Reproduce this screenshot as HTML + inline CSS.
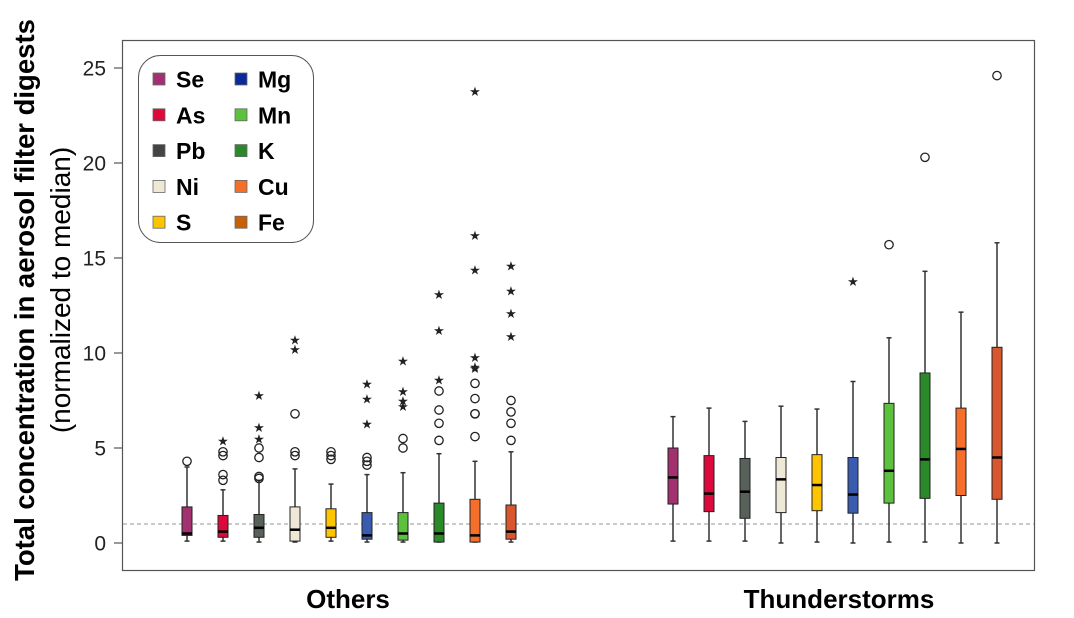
<!DOCTYPE html>
<html><head><meta charset="utf-8"><style>
body{margin:0;background:#fff;}
svg{display:block;font-family:"Liberation Sans",Arial,sans-serif;}
</style></head><body>
<svg id="chart" width="1074" height="618">
<rect x="122.5" y="40.5" width="912" height="530" fill="none" stroke="#555" stroke-width="1.2"/>
<g id="yaxis"></g>
<g id="marks"></g>
<text x="34" y="300" transform="rotate(-90 34 300)" text-anchor="middle" font-size="27.5" font-weight="bold" fill="#000">Total concentration in aerosol filter digests</text>
<text x="70" y="290" transform="rotate(-90 70 290)" text-anchor="middle" font-size="28" fill="#000">(normalized to median)</text>
<text x="348" y="608" text-anchor="middle" font-size="26" font-weight="bold">Others</text>
<text x="839" y="608" text-anchor="middle" font-size="26" font-weight="bold">Thunderstorms</text>
<g id="legend">
<rect x="138.5" y="55.5" width="175" height="187" rx="22" fill="#fff" stroke="#555" stroke-width="1"/>
</g>
</svg>
<script>
const elements = ["Se","As","Pb","Ni","S","Mg","Mn","K","Cu","Fe"];
const colors = ["#a3306f","#dc0a3c","#58605a","#efe8d6","#ffc400","#3a5cb0","#5cc13c","#2a8a2a","#f66f2a","#d8572f"];
const legendColors = ["#a3306f","#dc0a3c","#444444","#efe8d6","#ffc400","#0a2a9a","#5cc13c","#2a8a2a","#f66f2a","#c8600a"];
const yTicks = [0,5,10,15,20,25];
// [low, q1, median, q3, high]
const othersStats = [
 [0.1,0.4,0.5,1.9,4.0],[0.1,0.3,0.6,1.45,2.8],[0.05,0.3,0.8,1.5,3.3],[0.05,0.1,0.7,1.9,3.9],[0.1,0.3,0.8,1.8,3.1],
 [0.05,0.2,0.4,1.6,3.6],[0.05,0.15,0.5,1.6,3.7],[0.05,0.05,0.5,2.1,4.7],[0.05,0.05,0.4,2.3,4.3],[0.05,0.2,0.6,2.0,4.8]];
const othersCircles = [[4.3],[3.3,3.6,4.6,4.8],[3.4,3.5,4.5,5.0],[4.6,4.8,6.8],[4.4,4.6,4.8],[4.1,4.3,4.5],[5.0,5.5],[5.4,6.3,7.0,8.0],[5.6,6.8,6.8,7.6,8.4],[5.4,6.3,6.9,7.5]];
const othersStars = [[],[5.4],[5.5,6.1,7.8],[10.2,10.7],[],[6.3,7.6,8.4],[7.2,7.5,8.0,9.6],[8.6,11.2,13.1],[9.2,9.3,9.8,14.4,16.2,23.8],[10.9,12.1,13.3,14.6]];
const stormStats = [
 [0.1,2.05,3.45,5.0,6.65],[0.1,1.65,2.6,4.6,7.1],[0.1,1.3,2.7,4.45,6.4],[0.0,1.6,3.35,4.5,7.2],[0.05,1.7,3.05,4.65,7.05],
 [0.0,1.57,2.55,4.5,8.5],[0.05,2.1,3.8,7.35,10.8],[0.05,2.35,4.4,8.95,14.3],[0.0,2.5,4.95,7.1,12.15],[0.0,2.3,4.5,10.3,15.8]];
const stormCircles = [[],[],[],[],[],[],[15.7],[20.3],[],[24.6]];
const stormStars = [[],[],[],[],[],[13.8],[],[],[],[]];
const refLine = 1;

const NS="http://www.w3.org/2000/svg";
const y=v=>543-v*19.0;
const xOthers=i=>187+i*36, xStorm=i=>673+i*36;
function mk(tag,attrs,parent){const e=document.createElementNS(NS,tag);for(const k in attrs)e.setAttribute(k,attrs[k]);parent.appendChild(e);return e;}
const ya=document.getElementById('yaxis'), mg=document.getElementById('marks'), lg=document.getElementById('legend');
yTicks.forEach(t=>{
 const l=mk('line',{x1:114,x2:122,y1:y(t),y2:y(t),stroke:'#555','stroke-width':1.2},ya);
 
 
 const tx=mk('text',{x:106,y:y(t)+7.5,'text-anchor':'end','font-size':21,fill:'#222'},ya);
 tx.textContent=t;
 
 
});
const rl=mk('line',{x1:123,x2:1034,y1:y(refLine),y2:y(refLine),stroke:'#aaa','stroke-width':1.2,'stroke-dasharray':'4 3'},mg);


function drawGroup(stats,circles,stars,xf,grp){
 stats.forEach((s,i)=>{
  const cx=xf(i), g=mk('g',{},mg);
  
  
  mk('line',{x1:cx,x2:cx,y1:y(s[0]),y2:y(s[4]),stroke:'#333','stroke-width':1.5},g);
  mk('line',{x1:cx-2.5,x2:cx+2.5,y1:y(s[0]),y2:y(s[0]),stroke:'#333','stroke-width':1.5},g);
  mk('line',{x1:cx-2.5,x2:cx+2.5,y1:y(s[4]),y2:y(s[4]),stroke:'#333','stroke-width':1.5},g);
  mk('rect',{x:cx-5,y:y(s[3]),width:10,height:Math.max(1,y(s[1])-y(s[3])),fill:colors[i],stroke:'#222','stroke-width':1},g);
  mk('line',{x1:cx-5,x2:cx+5,y1:y(s[2]),y2:y(s[2]),stroke:'#000','stroke-width':2.5},g);
  circles[i].forEach(v=>{mk('circle',{cx:cx,cy:y(v),r:4.2,fill:'none',stroke:'#222','stroke-width':1.3},g);});
  stars[i].forEach(v=>{const t=mk('text',{x:cx,y:y(v)+5,'text-anchor':'middle','font-size':13,fill:'#222'},g);t.textContent='★';});
 });
}
drawGroup(othersStats,othersCircles,othersStars,xOthers,'others');
drawGroup(stormStats,stormCircles,stormStars,xStorm,'thunderstorms');
elements.forEach((el,i)=>{
 const col=Math.floor(i/5), row=i%5;
 const sx=col?235:153, ry=79+row*35.8;
 const g=mk('g',{},lg);
 
 
 mk('rect',{x:sx,y:ry-6,width:12,height:12,fill:legendColors[i],stroke:'#666','stroke-width':0.8},g);
 const t=mk('text',{x:sx+23,y:ry+8.5,'font-size':23,'font-weight':'bold',fill:'#000'},g);
 t.textContent=el;
});
</script>
</body></html>
